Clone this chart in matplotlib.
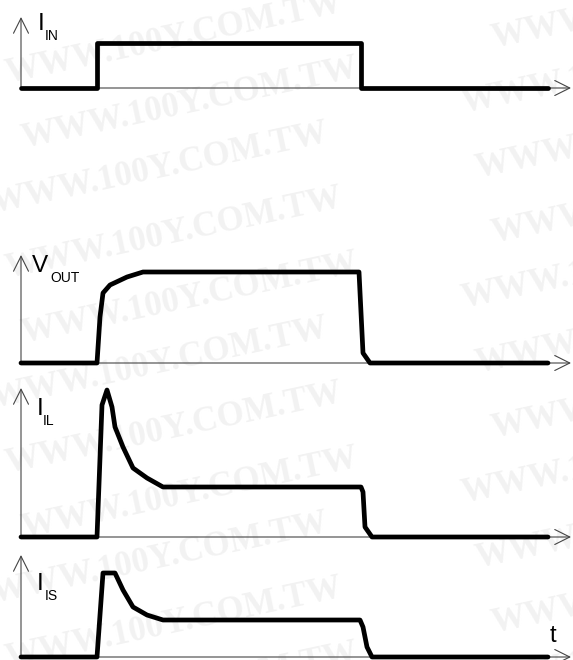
import numpy as np
import matplotlib.pyplot as plt

plt.rcParams['font.family'] = ['Liberation Sans', 'DejaVu Sans']

# time in arbitrary units, 0 at the vertical axis
t_in = [0, 7.6, 7.6, 34.0, 34.0, 52.7]
i_in = [0, 0, 4.5, 4.5, 0, 0]

t_vout = [0, 7.6, 7.9, 8.2, 8.9, 10.6, 12.2, 33.8, 34.2, 34.9, 52.7]
v_out = [0, 0, 4.6, 7.0, 7.8, 8.6, 9.1, 9.1, 1.0, 0, 0]

t_il = [0, 7.6, 8.1, 8.6, 9.1, 9.4, 10.2, 11.2, 12.6, 14.2, 34.0, 34.2, 34.4, 35.1, 52.7]
i_il = [0, 0, 13.2, 14.7, 13.0, 11.0, 9.0, 6.9, 5.9, 5.0, 5.0, 4.5, 1.0, 0, 0]

t_is = [0, 7.6, 8.2, 9.4, 10.2, 11.2, 12.6, 14.2, 33.9, 34.2, 34.6, 35.1, 52.7]
i_is = [0, 0, 8.4, 8.4, 6.7, 5.0, 4.2, 3.7, 3.7, 3.0, 1.0, 0, 0]

labels = [("I", "IN"), ("V", "OUT"), ("I", "IL"), ("I", "IS")]
watermark = "WWW.100Y.COM.TW"

W, H = 573, 660
fig = plt.figure(figsize=(W / 100, H / 100), dpi=100)

# faint watermark in the background
bg = fig.add_axes([0, 0, 1, 1], zorder=-1)
bg.set_xlim(0, W)
bg.set_ylim(H, 0)
bg.axis('off')
for k in range(-2, 12):
    dx = 15 * (k % 3)
    y0 = 113 + 65 * k
    for x0 in (-7 + dx, 463 + dx):
        yy = y0 + (100 if x0 < 100 else 0)
        bg.text(x0, yy, watermark, fontsize=25, fontweight='bold',
                family='Liberation Serif', color='#f2f2f2', rotation=12,
                rotation_mode='anchor', ha='left', va='baseline')

# one overlay axes per waveform; baseline row in pixels and axis height
panels = [
    (t_in, i_in, 88, 7.1, (1.7, 5.8), (2.4, 4.8)),
    (t_vout, v_out, 363, 10.8, (1.1, 9.1), (2.9, 8.1)),
    (t_il, i_il, 537, 14.9, (1.6, 12.2), (2.2, 11.2)),
    (t_is, i_is, 657, 10.2, (1.6, 6.7), (2.4, 5.7)),
]

head = '->,head_length=0.6,head_width=0.3'
for (t, y, base, top, p_main, p_sub), (main, sub) in zip(panels, labels):
    ax = fig.add_axes([0, 0, 1, 1])
    ax.set_xlim(-2.1, 55.2)
    ax.set_ylim(-(H - base) / 10, base / 10)
    ax.axis('off')
    ax.patch.set_visible(False)

    ax.annotate('', xy=(55.0, 0), xytext=(0, 0),
                arrowprops=dict(arrowstyle=head, lw=0.8, color='#444',
                                mutation_scale=18, shrinkA=0, shrinkB=0))
    ax.annotate('', xy=(0, top), xytext=(0, 0),
                arrowprops=dict(arrowstyle=head, lw=0.8, color='#444',
                                mutation_scale=18, shrinkA=0, shrinkB=0))

    ax.plot(t, y, color='black', lw=3.4, solid_capstyle='round',
            solid_joinstyle='round', zorder=5)

    ax.text(*p_main, main, fontsize=17.5, ha='left', va='baseline')
    ax.text(*p_sub, sub, fontsize=10, ha='left', va='baseline')

ax.text(52.9, 1.5, "t", fontsize=17, ha='left', va='baseline')

fig.savefig('out.png', dpi=100)
